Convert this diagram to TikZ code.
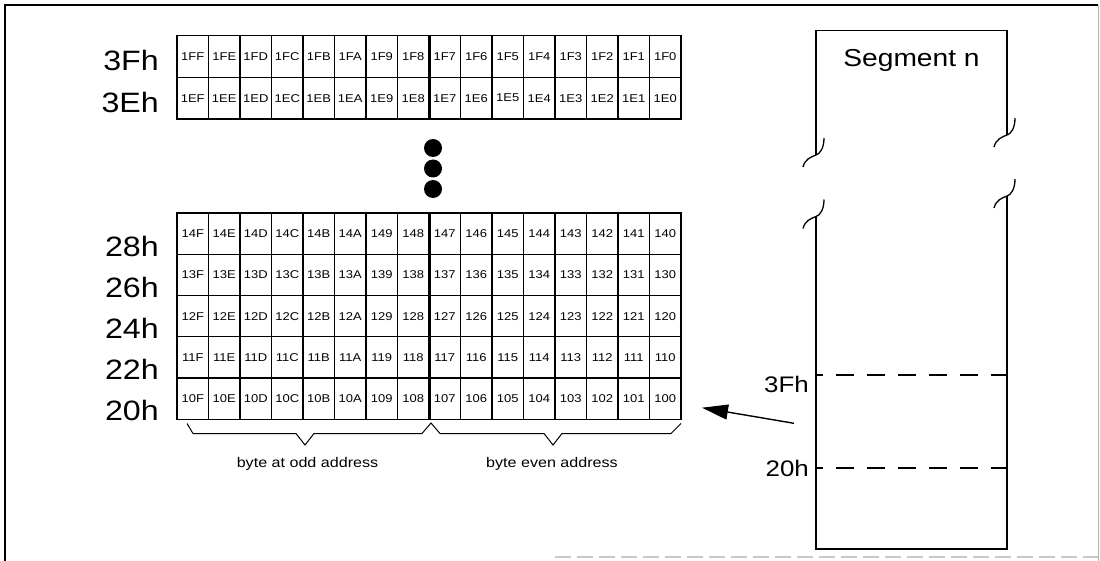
\documentclass[tikz,border=0pt]{standalone}
\usepackage{fontspec}
\setmainfont{Liberation Sans}[FakeStretch=1.15]
\usetikzlibrary{arrows.meta}
\newcommand\hexdig[1]{\ifcase#1\relax 0\or 1\or 2\or 3\or 4\or 5\or 6\or 7\or 8\or 9\or A\or B\or C\or D\or E\or F\fi}
\begin{document}
\begin{tikzpicture}[x=1pt,y=-1pt,
  cell/.style={draw, line width=1.1pt, minimum width=31.5pt, inner sep=0pt,
    font=\fontsize{11.3}{12}\selectfont},
  rowlbl/.style={anchor=base east, inner sep=0pt, font=\fontsize{28}{32}\selectfont},
  seglbl/.style={anchor=base east, inner sep=0pt, font=\fontsize{22.5}{26}\selectfont},
  undertxt/.style={anchor=base, inner sep=0pt, font=\fontsize{14}{16}\selectfont},
  dot/.style={circle, fill=black, draw=none, minimum size=18pt, inner sep=0pt},
  boxline/.style={line width=1.3pt},
  dashline/.style={line width=1.1pt, dash pattern=on 18pt off 13pt, dash phase=11pt},
  bracel/.style={line width=1pt, line join=miter},
  midline/.style={line width=2.2pt}
]
\useasboundingbox (0,0) rectangle (1100,561);
\fill[white] (0,0) rectangle (1100,561);

% outer frame
\draw[line width=1.8pt] (5,561) -- (5,5) -- (1098,5);
\draw[line width=0.7pt, gray!60] (1098,5) -- (1098,561);
\draw[line width=1.2pt, gray!45, dash pattern=on 16pt off 6pt] (555,557) -- (1098,557);

% top grid
\foreach \r/\d in {0/F,1/E}
  \foreach \hx [count=\cc from 0] in {15,14,...,0}
    \node[cell, minimum height=41.75pt] (t\r-\cc) at ({192.75+31.5*\cc},{56.375+41.75*\r}) {1\d\hexdig{\hx}};
\draw[midline] (t0-7.north east) -- (t1-7.south east);

% bottom grid
\foreach \r/\d in {0/4,1/3,2/2,3/1,4/0}
  \foreach \hx [count=\cc from 0] in {15,14,...,0}
    \node[cell, minimum height=41.25pt] (b\r-\cc) at ({192.75+31.5*\cc},{233.625+41.25*\r}) {1\d\hexdig{\hx}};
\draw[midline] (b0-7.north east) -- (b4-7.south east);

% row labels
\node[rowlbl] (l3F) at (159,71) {3Fh};
\node[rowlbl] (l3E) at (159,113) {3Eh};
\node[rowlbl] (l28) at (159,256.5) {28h};
\node[rowlbl] (l26) at (159,297.6) {26h};
\node[rowlbl] (l24) at (159,338.7) {24h};
\node[rowlbl] (l22) at (159,379.8) {22h};
\node[rowlbl] (l20) at (159,420.9) {20h};

% dots
\node[dot] (d1) at (433,148) {};
\node[dot] (d2) at (433,168.5) {};
\node[dot] (d3) at (433,189) {};

% braces
\draw[bracel] (187,423.5) -- (193,433.5) -- (296,433.5) -- (305,445) -- (314,433.5)
  -- (422,433.5) -- (431,423) -- (440,433.5) -- (544,433.5) -- (553,445) -- (562,433.5)
  -- (671,433.5) -- (681,423.5);
\node[undertxt] (odd) at (307.5,467) {byte at odd address};
\node[undertxt] (even) at (552,467) {byte even address};

% segment box
\coordinate (LU) at (816,155);
\coordinate (LL) at (816,216.5);
\coordinate (RU) at (1007,135);
\coordinate (RL) at (1007,196);
\draw[boxline] (LU) -- (816,30.5) -- (1007,30.5) -- (RU);
\draw[boxline] (RL) -- (1007,549) -- (816,549) -- (LL);
\foreach \p in {LU,LL,RU,RL}
  \draw[boxline, shift={(\p)}] (8,-17) .. controls (8,-7) and (4,-1) .. (0,0)
     .. controls (-5,2) and (-11,4) .. (-13,12);
\node[anchor=base, inner sep=0pt, font=\fontsize{24.5}{28}\selectfont] (seg) at (911.5,67) {Segment n};

% dashed address lines
\coordinate (a3Fl) at (816,375);
\coordinate (a3Fr) at (1007,375);
\coordinate (a20l) at (816,468);
\coordinate (a20r) at (1007,468);
\draw[dashline] (a3Fl) -- (a3Fr);
\draw[dashline] (a20l) -- (a20r);
\node[seglbl] (s3F) at (809,392) {3Fh};
\node[seglbl] (s20) at (809,476) {20h};

% arrow
\coordinate (atail) at (794,423.3);
\coordinate (ahead) at (702,407.7);
\draw[line width=1.4pt, -{Triangle[length=26pt,width=15pt]}] (atail) -- (ahead);
\end{tikzpicture}
\end{document}
